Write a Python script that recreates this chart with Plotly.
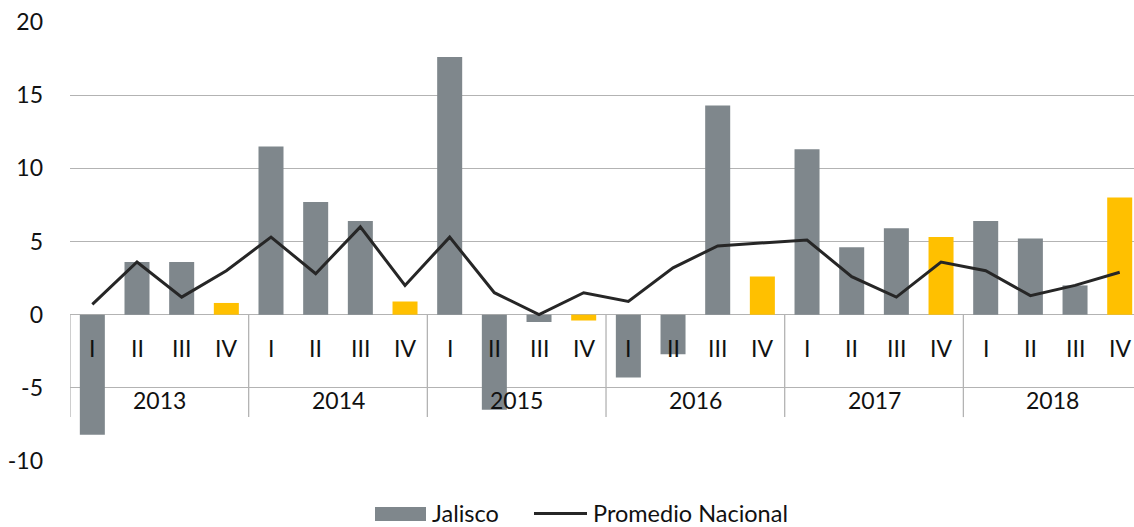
import plotly.graph_objects as go

years = ["2013", "2014", "2015", "2016", "2017", "2018"]
quarters = ["I", "II", "III", "IV"]
jalisco = [-8.2, 3.6, 3.6, 0.8,
           11.5, 7.7, 6.4, 0.9,
           17.6, -6.5, -0.5, -0.4,
           -4.3, -2.7, 14.3, 2.6,
           11.3, 4.6, 5.9, 5.3,
           6.4, 5.2, 2.0, 8.0]
promedio = [0.7, 3.6, 1.2, 3.0,
            5.3, 2.8, 6.0, 2.0,
            5.3, 1.5, 0.0, 1.5,
            0.9, 3.2, 4.7, 4.9,
            5.1, 2.6, 1.2, 3.6,
            3.0, 1.3, 2.0, 2.9]
y_ticks = [-10, -5, 0, 5, 10, 15, 20]
y_ticktext = ["-10", "-5", "0", "5", "10", "15", "20"]

GRAY = "#7f878c"
YELLOW = "#ffc000"
LINE = "#262626"
TXT = "#111111"
FONT = "Lato, 'Open Sans', sans-serif"
FS = 23

n = len(jalisco)
xs = list(range(n))
colors = [YELLOW if i % 4 == 3 else GRAY for i in xs]

fig = go.Figure()
fig.add_trace(go.Bar(x=xs, y=jalisco, name="Jalisco", marker=dict(color=colors, line=dict(width=0)),
                     width=0.56, showlegend=False))
fig.add_trace(go.Scatter(x=xs, y=promedio, name="Promedio Nacional", mode="lines",
                         line=dict(color=LINE, width=3), showlegend=False))

annotations = []
for i in xs:
    annotations.append(dict(x=i, y=-2.3, xref="x", yref="y", text=quarters[i % 4], showarrow=False,
                            font=dict(family=FONT, size=FS, color=TXT), yanchor="middle"))
for k, yr in enumerate(years):
    annotations.append(dict(x=4 * k + 1.5, y=-5.8, xref="x", yref="y", text=yr, showarrow=False,
                            font=dict(family=FONT, size=FS, color=TXT), yanchor="middle"))

# custom legend (paper coords; plot area spans y 22..461 px, x 70..1134 px)
def px_x(p):
    return (p - 70) / 1064.0

def px_y(p):
    return (461 - p) / 439.0

annotations.append(dict(x=px_x(430), y=px_y(513), xref="paper", yref="paper", text="Jalisco",
                        showarrow=False, xanchor="left", yanchor="middle",
                        font=dict(family=FONT, size=FS + 0.5, color=TXT)))
annotations.append(dict(x=px_x(591), y=px_y(513), xref="paper", yref="paper", text="Promedio Nacional",
                        showarrow=False, xanchor="left", yanchor="middle",
                        font=dict(family=FONT, size=FS + 0.5, color=TXT)))

shapes = []
for k in range(len(years) + 1):
    shapes.append(dict(type="line", xref="x", yref="y", x0=4 * k - 0.5, x1=4 * k - 0.5, y0=0, y1=-7,
                       line=dict(color="#b3b3b3", width=1.3), layer="below"))
shapes.append(dict(type="rect", xref="paper", yref="paper", x0=px_x(375), x1=px_x(426),
                   y0=px_y(521), y1=px_y(507), fillcolor=GRAY, line=dict(width=0)))
shapes.append(dict(type="line", xref="paper", yref="paper", x0=px_x(534), x1=px_x(587),
                   y0=px_y(513.5), y1=px_y(513.5), line=dict(color=LINE, width=3)))

fig.update_layout(
    width=1134, height=527,
    margin=dict(l=70, r=0, t=22, b=66, autoexpand=False),
    plot_bgcolor="white", paper_bgcolor="white",
    font=dict(family=FONT, size=FS, color=TXT),
    showlegend=False,
    annotations=annotations,
    shapes=shapes,
)
fig.update_xaxes(range=[-0.5, 23.32], showticklabels=False, showgrid=False, zeroline=False,
                 showline=False, ticks="", automargin=False)
fig.update_yaxes(range=[-10, 20], tickvals=y_ticks, ticktext=y_ticktext, showgrid=True,
                 gridcolor="#b3b3b3", gridwidth=1.3,
                 zeroline=True, zerolinecolor="#b3b3b3", zerolinewidth=1.3, showline=False,
                 ticks="", ticklabelstandoff=26, automargin=False,
                 tickfont=dict(family=FONT, size=FS, color=TXT))

fig.write_html("out.html", config={"displayModeBar": False},
               post_script="document.body.style.margin='0';document.body.style.overflow='hidden';")
